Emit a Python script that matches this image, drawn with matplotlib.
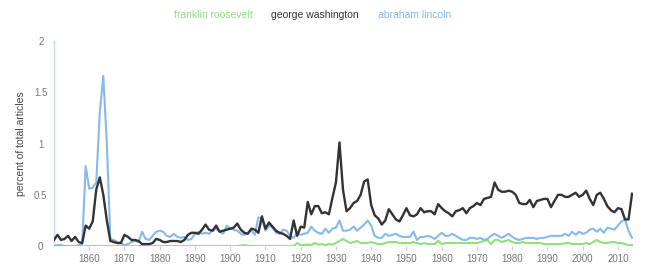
import matplotlib
matplotlib.use("Agg")
import matplotlib.pyplot as plt

# years 1850 .. 2014, one value per year
years = list(range(1850, 2015))

washington = [
    0.06, 0.11, 0.06, 0.07, 0.10, 0.05, 0.09, 0.04, 0.03, 0.20,   # 1850s
    0.17, 0.24, 0.55, 0.67, 0.50, 0.25, 0.05, 0.04, 0.03, 0.03,   # 1860s
    0.11, 0.09, 0.06, 0.06, 0.05, 0.02, 0.02, 0.02, 0.03, 0.07,   # 1870s
    0.06, 0.04, 0.04, 0.05, 0.05, 0.05, 0.04, 0.06, 0.11, 0.13,   # 1880s
    0.13, 0.12, 0.16, 0.21, 0.16, 0.15, 0.20, 0.14, 0.15, 0.16,   # 1890s
    0.17, 0.18, 0.22, 0.16, 0.13, 0.12, 0.17, 0.16, 0.13, 0.29,   # 1900s
    0.17, 0.23, 0.19, 0.15, 0.13, 0.12, 0.10, 0.07, 0.25, 0.10,   # 1910s
    0.19, 0.18, 0.43, 0.31, 0.39, 0.39, 0.32, 0.33, 0.31, 0.47,   # 1920s
    0.62, 1.01, 0.55, 0.34, 0.37, 0.42, 0.44, 0.50, 0.63, 0.65,   # 1930s
    0.40, 0.30, 0.27, 0.21, 0.25, 0.36, 0.31, 0.26, 0.24, 0.30,   # 1940s
    0.37, 0.30, 0.29, 0.31, 0.37, 0.33, 0.34, 0.34, 0.31, 0.41,   # 1950s
    0.37, 0.34, 0.32, 0.29, 0.34, 0.35, 0.37, 0.32, 0.37, 0.39,   # 1960s
    0.42, 0.40, 0.46, 0.47, 0.48, 0.62, 0.55, 0.53, 0.53, 0.54,   # 1970s
    0.53, 0.50, 0.42, 0.41, 0.41, 0.45, 0.38, 0.44, 0.45, 0.46,   # 1980s
    0.46, 0.38, 0.44, 0.50, 0.50, 0.48, 0.48, 0.50, 0.52, 0.48,   # 1990s
    0.50, 0.54, 0.46, 0.40, 0.50, 0.52, 0.46, 0.39, 0.35, 0.33,   # 2000s
    0.37, 0.36, 0.26, 0.26, 0.51,                                 # 2010s
]

lincoln = [
    0.00, 0.01, 0.01, 0.00, 0.00, 0.00, 0.00, 0.01, 0.02, 0.78,
    0.56, 0.57, 0.62, 1.30, 1.66, 1.00, 0.07, 0.06, 0.04, 0.03,
    0.01, 0.02, 0.04, 0.05, 0.04, 0.14, 0.07, 0.06, 0.10, 0.14,
    0.15, 0.14, 0.10, 0.09, 0.12, 0.09, 0.08, 0.09, 0.06, 0.07,
    0.12, 0.14, 0.12, 0.13, 0.12, 0.15, 0.17, 0.14, 0.12, 0.20,
    0.17, 0.16, 0.15, 0.12, 0.11, 0.13, 0.15, 0.11, 0.28, 0.27,
    0.15, 0.20, 0.18, 0.13, 0.12, 0.16, 0.15, 0.10, 0.08, 0.13,
    0.11, 0.12, 0.13, 0.19, 0.15, 0.13, 0.12, 0.17, 0.13, 0.17,
    0.18, 0.25, 0.15, 0.15, 0.16, 0.19, 0.15, 0.18, 0.21, 0.25,
    0.20, 0.10, 0.08, 0.08, 0.12, 0.10, 0.11, 0.12, 0.10, 0.09,
    0.09, 0.09, 0.14, 0.06, 0.09, 0.09, 0.10, 0.09, 0.07, 0.10,
    0.13, 0.10, 0.10, 0.12, 0.10, 0.08, 0.06, 0.06, 0.08, 0.08,
    0.07, 0.08, 0.06, 0.07, 0.10, 0.12, 0.10, 0.08, 0.10, 0.12,
    0.09, 0.07, 0.06, 0.07, 0.08, 0.08, 0.08, 0.07, 0.08, 0.08,
    0.09, 0.10, 0.10, 0.10, 0.10, 0.12, 0.10, 0.14, 0.11, 0.14,
    0.12, 0.13, 0.16, 0.17, 0.14, 0.17, 0.13, 0.18, 0.17, 0.16,
    0.20, 0.24, 0.26, 0.15, 0.08,
]

roosevelt = [
    0.00, 0.00, 0.00, 0.00, 0.00, 0.00, 0.00, 0.00, 0.00, 0.00,
    0.00, 0.00, 0.00, 0.00, 0.00, 0.00, 0.00, 0.00, 0.00, 0.00,
    0.00, 0.00, 0.00, 0.00, 0.00, 0.00, 0.00, 0.00, 0.00, 0.00,
    0.00, 0.00, 0.00, 0.00, 0.00, 0.00, 0.00, 0.00, 0.00, 0.00,
    0.00, 0.00, 0.00, 0.00, 0.00, 0.00, 0.00, 0.00, 0.00, 0.00,
    0.00, 0.00, 0.00, 0.005, 0.01, 0.005, 0.00, 0.00, 0.00, 0.00,
    0.00, 0.00, 0.00, 0.00, 0.00, 0.00, 0.00, 0.00, 0.00, 0.03,
    0.01, 0.01, 0.015, 0.01, 0.03, 0.015, 0.02, 0.01, 0.02, 0.015,
    0.03, 0.05, 0.07, 0.05, 0.03, 0.04, 0.05, 0.03, 0.03, 0.03,
    0.04, 0.03, 0.02, 0.02, 0.03, 0.04, 0.04, 0.04, 0.03, 0.03,
    0.03, 0.03, 0.04, 0.03, 0.02, 0.03, 0.02, 0.02, 0.02, 0.05,
    0.02, 0.03, 0.03, 0.03, 0.03, 0.03, 0.03, 0.03, 0.03, 0.03,
    0.03, 0.04, 0.05, 0.06, 0.02, 0.06, 0.06, 0.04, 0.05, 0.06,
    0.04, 0.03, 0.03, 0.04, 0.03, 0.03, 0.03, 0.03, 0.03, 0.02,
    0.02, 0.02, 0.02, 0.02, 0.02, 0.03, 0.03, 0.02, 0.02, 0.02,
    0.02, 0.03, 0.02, 0.04, 0.06, 0.04, 0.03, 0.03, 0.04, 0.04,
    0.03, 0.03, 0.02, 0.01, 0.01,
]

names = ["franklin roosevelt", "george washington", "abraham lincoln"]
colors = ["#8fe07f", "#333333", "#86b9ee"]
x_ticks = list(range(1860, 2011, 10))
y_ticks = [0, 0.5, 1, 1.5, 2]
y_tick_labels = ["0", "0.5", "1", "1.5", "2"]

plt.rcParams["font.family"] = ["Liberation Sans", "DejaVu Sans"]

fig = plt.figure(figsize=(6.5, 2.8), dpi=100)
ax = fig.add_axes([0.083, 0.121, 0.891, 0.733])

ax.plot(years, roosevelt, color=colors[0], lw=1.5, solid_joinstyle="round", zorder=2)
ax.plot(years, lincoln, color=colors[2], lw=1.5, solid_joinstyle="round", zorder=3)
ax.plot(years, washington, color=colors[1], lw=1.7, solid_joinstyle="round", zorder=4)

ax.set_xlim(1850, 2014.3)
ax.set_ylim(0, 2)
ax.set_xticks(x_ticks)
ax.set_yticks(y_ticks)
ax.set_yticklabels(y_tick_labels)

for s in ["top", "right", "bottom"]:
    ax.spines[s].set_visible(False)
ax.spines["left"].set_color("#c9dcef")
ax.spines["left"].set_linewidth(1)

ax.tick_params(axis="x", length=3, color="#cccccc", labelcolor="#777777",
               labelsize=7, pad=3)
ax.tick_params(axis="y", length=0, labelcolor="#777777", labelsize=7, pad=9.5)
for lab in ax.get_yticklabels():
    lab.set_horizontalalignment("center")

ax.set_ylabel("percent of total articles", color="#444444", fontsize=7.5, labelpad=5.5)

# legend across the top
legend_x = [213 / 650, 315 / 650, 415 / 650]
for name, c, lx in zip(names, colors, legend_x):
    fig.text(lx, 1 - 15 / 280, name, color=c, fontsize=7.5, ha="center", va="center")

fig.savefig("out.png", dpi=100, facecolor="white")
